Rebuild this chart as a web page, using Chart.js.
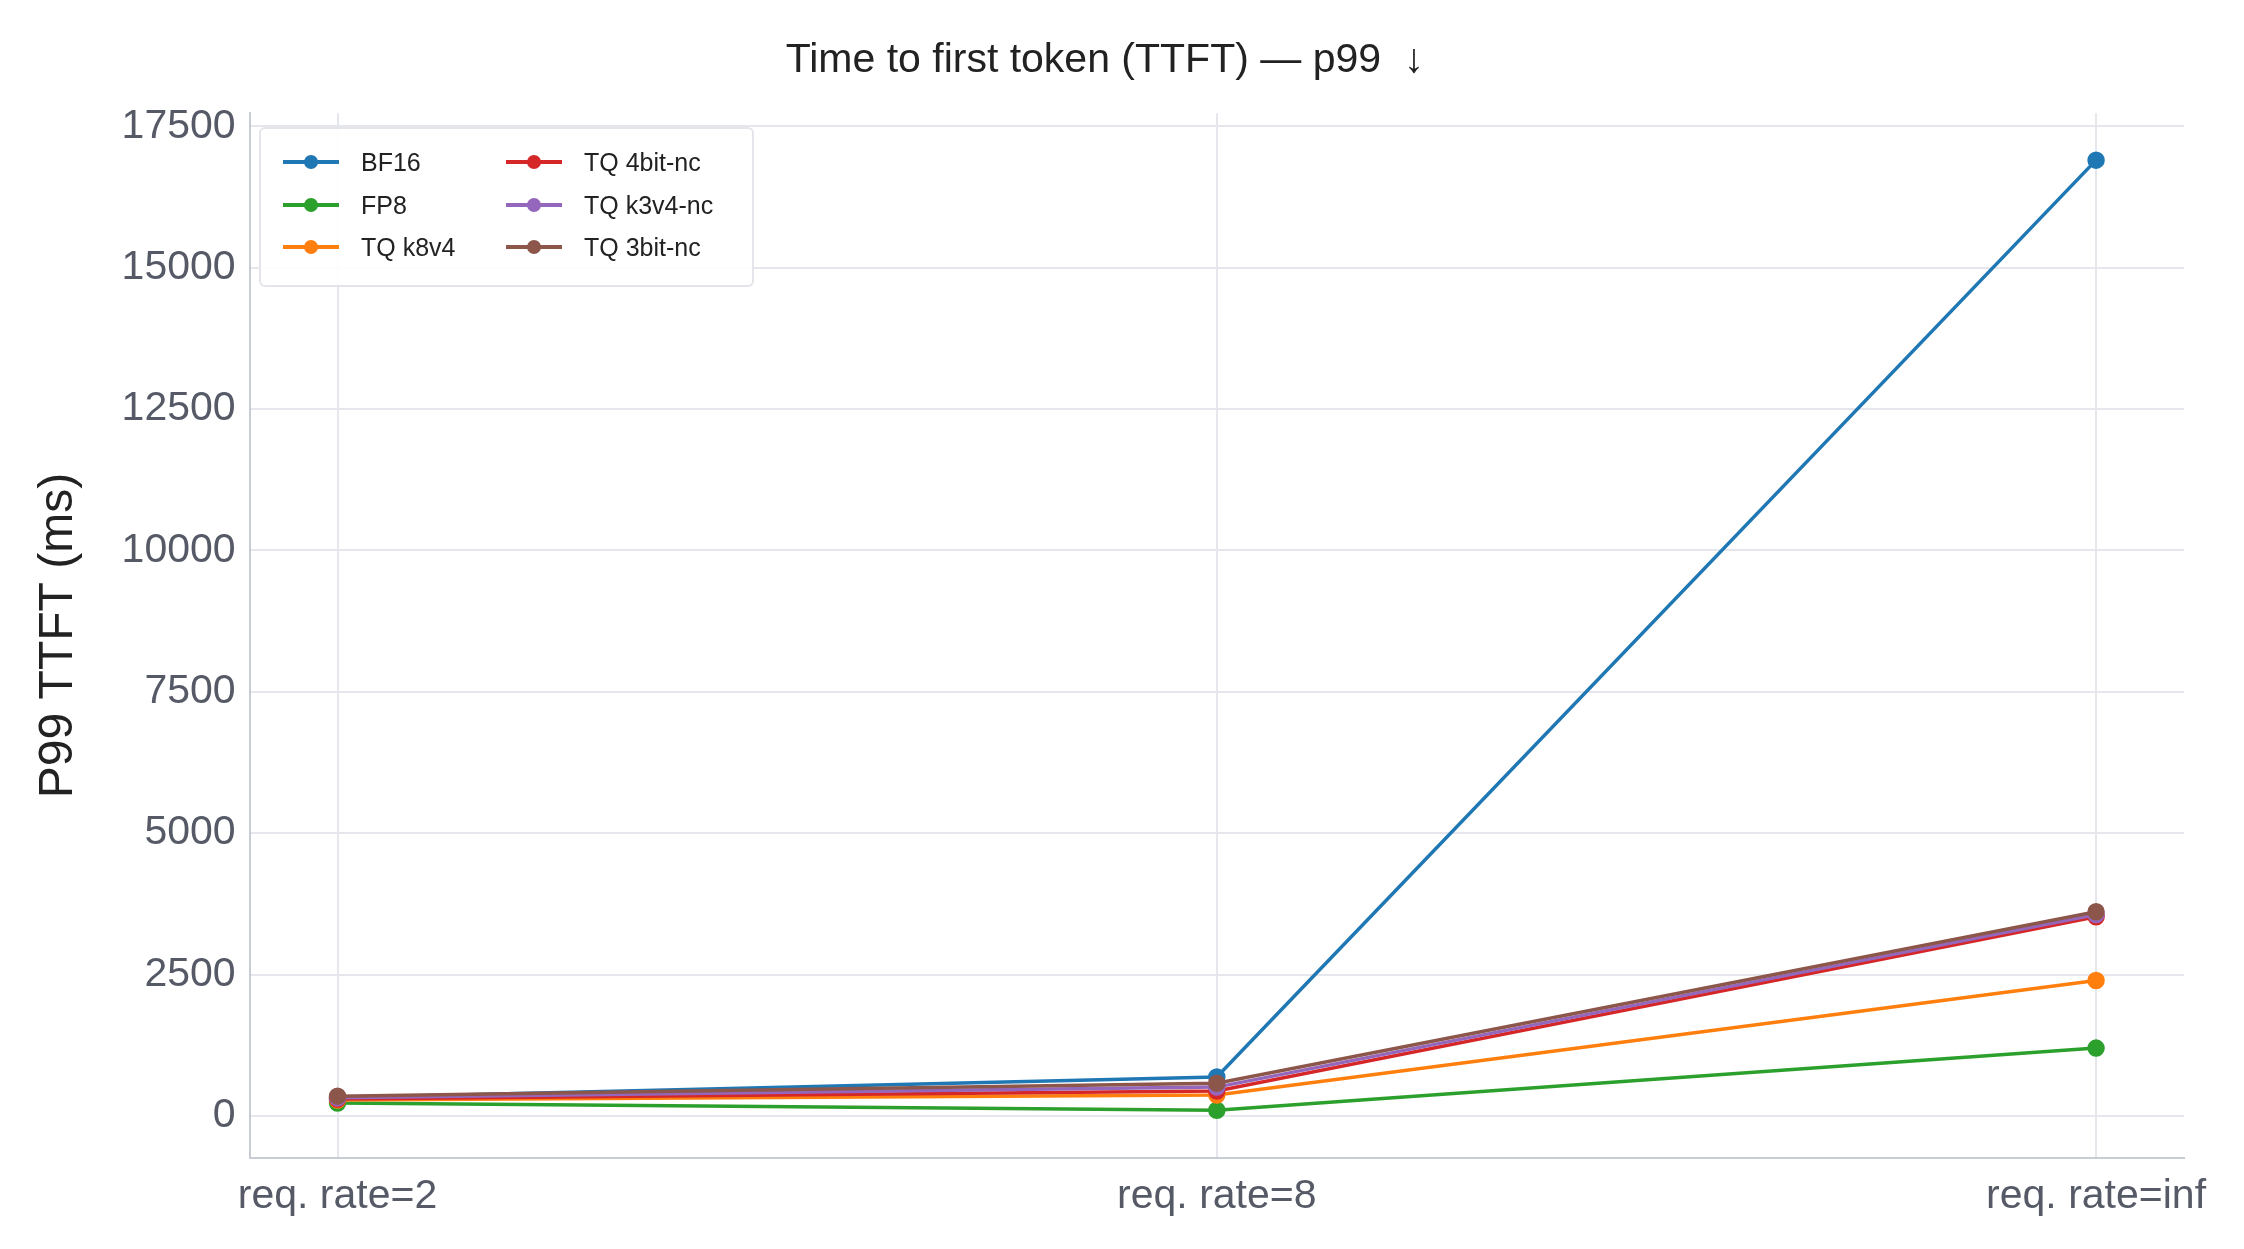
<!DOCTYPE html>
<html><head><meta charset="utf-8">
<script src="https://cdn.jsdelivr.net/npm/chart.js@4/dist/chart.umd.min.js"></script>
<style>
html,body{margin:0;padding:0;background:#fff;}
#wrap{position:relative;width:2244px;height:1249px;}
#legend{position:absolute;left:259px;top:127px;width:495px;height:160px;border:2px solid #e3e5ea;border-radius:6px;background:rgba(255,255,255,0.9);font-family:"Liberation Sans",Arial,sans-serif;font-size:25px;color:#222;box-sizing:border-box;}
.it{position:absolute;display:flex;align-items:center;height:30px;}
.ln{position:relative;width:56px;height:3.5px;margin-right:22px;}
.dt{position:absolute;left:21px;top:-5.5px;width:14px;height:14px;border-radius:50%;}
</style></head><body>
<div id="wrap"><canvas id="c" width="2244" height="1249"></canvas><div id="legend"></div></div>
<script>
const categories = ["req. rate=2","req. rate=8","req. rate=inf"];
const seriesNames = ["BF16","FP8","TQ k8v4","TQ 4bit-nc","TQ k3v4-nc","TQ 3bit-nc"];
const bf16 = [320, 690, 16900];
const fp8 = [230, 100, 1200];
const tqK8v4 = [280, 370, 2395];
const tq4bit = [300, 440, 3520];
const tqK3v4 = [320, 510, 3560];
const tq3bit = [350, 580, 3610];
const yTicks = [0,2500,5000,7500,10000,12500,15000,17500];
const colors = ["#1f77b4","#2ca02c","#ff7f0e","#d62728","#9467bd","#8c564b"];
const allSeries = [bf16, fp8, tqK8v4, tq4bit, tqK3v4, tq3bit];

const datasets = allSeries.map((s,i)=>({
  label: seriesNames[i],
  data: s.map((v,j)=>({x:j,y:v})),
  borderColor: colors[i], backgroundColor: colors[i],
  borderWidth: 3.5, pointRadius: 7, pointHoverRadius: 7, order: 6-i
}));

const font = '"Liberation Sans", Arial, sans-serif';
Chart.defaults.font.family = font;
new Chart(document.getElementById('c'), {
  type: 'line',
  data: { datasets },
  options: {
    responsive:false, animation:false, devicePixelRatio:1,
    layout:{padding:{left:26,right:60,top:10,bottom:14}},
    plugins:{
      legend:{display:false}, tooltip:{enabled:false},
      title:{display:true,text:'Time to first token (TTFT) — p99  ↓',color:'#222',font:{size:41,weight:'normal'},padding:{top:26,bottom:28}}
    },
    scales:{
      x:{type:'linear',min:-0.1,max:2.1,
        afterBuildTicks:(a)=>{a.ticks=categories.map((c,i)=>({value:i}));},
        ticks:{callback:(v)=>categories[v]??'',color:'#555a66',font:{size:41},padding:14,maxRotation:0,autoSkip:false},
        grid:{color:'#e6e7ec',lineWidth:2,drawTicks:false},
        border:{display:true,color:'#c8ccd4',width:2}},
      y:{min:-740,max:17730,
        afterBuildTicks:(a)=>{a.ticks=yTicks.map(v=>({value:v}));},
        ticks:{callback:(v)=>String(v),color:'#555a66',font:{size:41},padding:14},
        grid:{color:'#e6e7ec',lineWidth:2,drawTicks:false},
        border:{display:true,color:'#c8ccd4',width:2},
        title:{display:true,text:'P99 TTFT (ms)',color:'#222',font:{size:48},padding:{bottom:20}}}
    }
  }
});
const lg=document.getElementById('legend');
const pos=[[22,18],[22,61],[22,103],[245,18],[245,61],[245,103]];
seriesNames.forEach((n,i)=>{
  const d=document.createElement('div');d.className='it';
  d.style.left=pos[i][0]+'px';d.style.top=pos[i][1]+'px';
  d.innerHTML=`<div class="ln" style="background:${colors[i]}"><div class="dt" style="background:${colors[i]}"></div></div><span>${n}</span>`;
  lg.appendChild(d);
});
</script></body></html>
